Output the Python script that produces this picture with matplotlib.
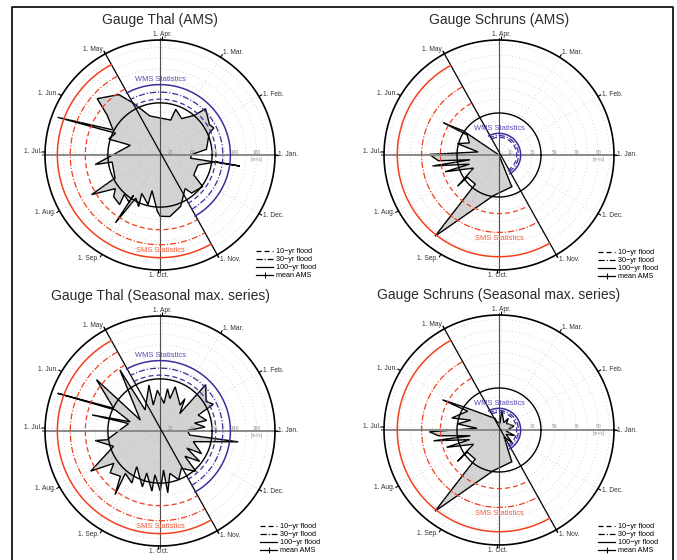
import numpy as np
import matplotlib
matplotlib.use('Agg')
import matplotlib.pyplot as plt
from matplotlib.lines import Line2D

plt.rcParams['font.family'] = ['Liberation Sans', 'DejaVu Sans']
plt.rcParams['lines.scale_dashes'] = False

# month markers (day of year of the 1st)
months = ['1. Jan.', '1. Feb.', '1. Mar.', '1. Apr.', '1. May', '1. Jun.',
          '1. Jul.', '1. Aug.', '1. Sep.', '1. Oct.', '1. Nov.', '1. Dec.']
month_doy = [0, 31, 59, 90, 120, 151, 181, 212, 243, 273, 304, 334]
may_doy, nov_doy = 120, 304

# Gauge Thal, annual maximum series (day of year, discharge m3/s)
thal_ams_doy = [1, 7, 24, 27, 32, 46, 50, 60, 72, 74, 106, 119, 126, 140, 145, 154,
                162, 156, 165, 164, 191, 191, 210, 213, 220, 225, 234, 231, 240, 240,
                240, 244, 251, 248, 260, 261, 271, 274, 283, 296, 311, 314, 328, 334,
                350, 358, 357, 359]
thal_ams_q = [59, 87, 100, 112, 108, 121, 97, 79, 90, 68, 75, 109, 136, 157, 123, 99,
              203, 92, 100, 58, 122, 90, 94, 147, 104, 116, 119, 99, 105, 90,
              151, 92, 104, 79, 95, 68, 105, 114, 116, 103, 78, 92, 99, 73,
              73, 106, 150, 57]

# Gauge Thal, seasonal maximum series
thal_sea_doy = [1, 5, 13, 13, 23, 27, 33, 46, 42, 53, 53, 72, 74, 81, 83, 95, 106, 105,
                127, 125, 153, 143, 156, 162, 157, 165, 169, 169, 192, 191, 201, 213,
                218, 223, 232, 238, 234, 245, 240, 256, 256, 266, 267, 274, 279, 281,
                287, 295, 304, 316, 319, 327, 332, 336, 347, 357, 357]
thal_sea_q = [51, 84, 66, 89, 77, 111, 102, 121, 49, 76, 61, 87, 63, 80, 52, 76, 50, 88,
              48, 136, 42, 152, 96, 203, 92, 58, 130, 60, 100, 122, 91, 149,
              105, 121, 112, 145, 102, 110, 79, 109, 82, 113, 82, 112, 73, 116,
              81, 97, 80, 101, 66, 93, 59, 88, 65, 147, 56]

# Gauge Schruns, annual maximum series
schr_ams_doy = [0, 148, 152, 150, 160, 167, 174, 182, 188, 192, 192, 200, 200, 210,
                220, 218, 234, 235, 266, 296]
schr_ams_q = [0, 39, 58.5, 34, 29, 39, 19, 63, 55, 26.5, 61, 28, 51, 26,
              47, 35, 34, 93.5, 37, 31]

# Gauge Schruns, seasonal maximum series
schr_sea_doy = [311, 320, 333, 345, 357, 15, 42, 52, 58, 83, 83, 107, 110, 149, 154,
                151, 168, 163, 174, 178, 184, 188, 194, 192, 201, 201, 212, 220, 218,
                234, 235, 266, 296]
schr_sea_q = [7.5, 17, 7.5, 15, 6.5, 14, 9, 13.5, 8, 18, 6, 8, 11, 38.5, 58,
              33, 44, 27, 38, 20, 63, 55, 26.5, 60, 28, 50, 26.5, 47, 35,
              34, 93.5, 37, 31]

# flood statistics: mean AMS, (10, 30, 100)-yr quantiles for winter / summer season
thal_mean = 97
thal_wms = [104, 117, 131]
thal_sms = [139, 167, 191]
schr_mean = 38
schr_wms = [16, 17.6, 19.6]
schr_sms = [53, 70, 92]

thal_ticks = [20, 60, 100, 140, 180]
schr_ticks = [10, 30, 50, 70, 90]

W, H = 677, 560
R_PX = 115          # radius of the outer circle in pixels
BLUE = '#3b2f9c'
RED = '#f2401d'
DASH = (0, (3.6, 2.2))
DASHDOT = (0, (4.5, 1.4, 0.8, 1.4))
DOTS = (0, (0.5, 2.0))
GRID = '#b4b4b4'

fig = plt.figure(figsize=(W / 100, H / 100), dpi=100)


def ang(doy):
    return np.deg2rad(np.asarray(doy, float) / 365.0 * 360.0)


def make_axes(cx, cy, r_out):
    h = 150
    ax = fig.add_axes([(cx - h) / W, (H - cy - h) / H, 2 * h / W, 2 * h / H])
    lim = r_out * h / R_PX
    ax.set_xlim(-lim, lim)
    ax.set_ylim(-lim, lim)
    ax.axis('off')
    return ax


def arc(ax, r, t1, t2, **kw):
    t = np.linspace(t1, t2, 300)
    ax.plot(r * np.cos(t), r * np.sin(t), **kw)


def draw_panel(ax, r_out, step, ticks, doy, q, mean_ams, wms, sms, title, leg_xy):
    s = r_out / R_PX  # data units per pixel

    # seasonal flood occurrence polygon
    th = ang(doy)
    q = np.asarray(q, float)
    ax.fill(q * np.cos(th), q * np.sin(th), facecolor='#d3d3d3', edgecolor='black',
            lw=1.0, zorder=2)

    # dotted grid
    full = np.linspace(0, 2 * np.pi, 400)
    for r in np.arange(step, r_out - 1e-6, step):
        ax.plot(r * np.cos(full), r * np.sin(full), ls=DOTS, color=GRID, lw=0.5, zorder=3)
    for a in ang(month_doy):
        ax.plot([0, r_out * np.cos(a)], [0, r_out * np.sin(a)], ls=DOTS,
                color=GRID, lw=0.5, zorder=3)

    # axes cross and season divide
    e = r_out + 2 * s
    ax.plot([-e, e], [0, 0], color='#8a8a8a', lw=1.4, zorder=4)
    ax.plot([0, 0], [-e, e], color='#505050', lw=0.8, zorder=4)
    am, an = ang(may_doy), ang(nov_doy)
    ax.plot([e * np.cos(am), e * np.cos(an)], [e * np.sin(am), e * np.sin(an)],
            color='black', lw=0.9, zorder=5)

    # outer circle, month ticks and labels
    ax.plot(r_out * np.cos(full), r_out * np.sin(full), color='black', lw=1.2, zorder=5)
    for lab, a in zip(months, ang(month_doy)):
        c, sn = np.cos(a), np.sin(a)
        ax.plot([r_out * c, (r_out + 3 * s) * c], [r_out * sn, (r_out + 3 * s) * sn],
                color='black', lw=0.8, zorder=5)
        rl = r_out + (3 + 2.5 * abs(sn)) * s
        ha = 'left' if c > 0.2 else ('right' if c < -0.2 else 'center')
        ax.text(rl * c, rl * sn, lab, fontsize=4.8, ha=ha, va='center',
                color='#333333', clip_on=False)

    # mean annual maximum
    ax.plot(mean_ams * np.cos(full), mean_ams * np.sin(full), color='black', lw=1.0, zorder=6)

    # winter (WMS) and summer (SMS) flood quantiles
    styles = [dict(ls=DASH, lw=0.9), dict(ls=DASHDOT, lw=0.9), dict(ls='-', lw=1.1)]
    for r, st in zip(wms, styles):
        arc(ax, r, an, am + 2 * np.pi, color=BLUE, zorder=6, **st)
    for r, st in zip(sms, styles):
        arc(ax, r, am, an, color=RED, zorder=6, **st)
    ax.text(0, wms[2] + 5 * s, 'WMS Statistics', fontsize=5.4, color='#5a4db5',
            ha='center', va='center', zorder=7)
    ax.text(0, -(sms[1] + 6 * s), 'SMS Statistics', fontsize=5.4, color='#f25a3a',
            ha='center', va='center', zorder=7)

    # radial scale
    for t in ticks:
        ax.text(t, 3 * s, str(t), fontsize=3.6, color='#909090', ha='center',
                va='center', zorder=7)
    ax.text(ticks[-1], -4 * s, '[m³/s]', fontsize=3.4, color='#909090', ha='center',
            va='center', zorder=7)

    ax.text(0, 135 * s, title, fontsize=10, ha='center', va='center', color='#2a2a2a',
            clip_on=False)

    handles = [Line2D([], [], color='black', lw=0.9, ls=DASH),
               Line2D([], [], color='black', lw=0.9, ls=DASHDOT),
               Line2D([], [], color='black', lw=0.9),
               Line2D([], [], color='black', lw=0.9, marker='|', markersize=4,
                      markeredgewidth=0.8)]
    labels = ['10−yr flood', '30−yr flood', '100−yr flood', 'mean AMS']
    ax.legend(handles, labels, loc='upper left',
              bbox_to_anchor=(leg_xy[0] / W, 1 - leg_xy[1] / H),
              bbox_transform=fig.transFigure, frameon=False, fontsize=5.2,
              handlelength=2.4, handletextpad=0.4, labelspacing=0.15,
              borderpad=0, borderaxespad=0, numpoints=1)


ax1 = make_axes(160, 155, 214)
draw_panel(ax1, 214, 20, thal_ticks, thal_ams_doy, thal_ams_q, thal_mean, thal_wms,
           thal_sms, 'Gauge Thal (AMS)', (256, 248))
ax2 = make_axes(499, 155, 104)
draw_panel(ax2, 104, 10, schr_ticks, schr_ams_doy, schr_ams_q, schr_mean, schr_wms,
           schr_sms, 'Gauge Schruns (AMS)', (598, 249))
ax3 = make_axes(160, 431, 214)
draw_panel(ax3, 214, 20, thal_ticks, thal_sea_doy, thal_sea_q, thal_mean, thal_wms,
           thal_sms, 'Gauge Thal (Seasonal max. series)', (260, 523))
ax4 = make_axes(499, 430, 104)
draw_panel(ax4, 104, 10, schr_ticks, schr_sea_doy, schr_sea_q, schr_mean, schr_wms,
           schr_sms, 'Gauge Schruns (Seasonal max. series)', (598, 523))

# page frame
fig.add_artist(Line2D([12 / W, 12 / W, 673 / W, 673 / W], [0, 1 - 7 / H, 1 - 7 / H, 0],
                      transform=fig.transFigure, color='black', lw=1.2))

fig.savefig('out.png', dpi=100)
